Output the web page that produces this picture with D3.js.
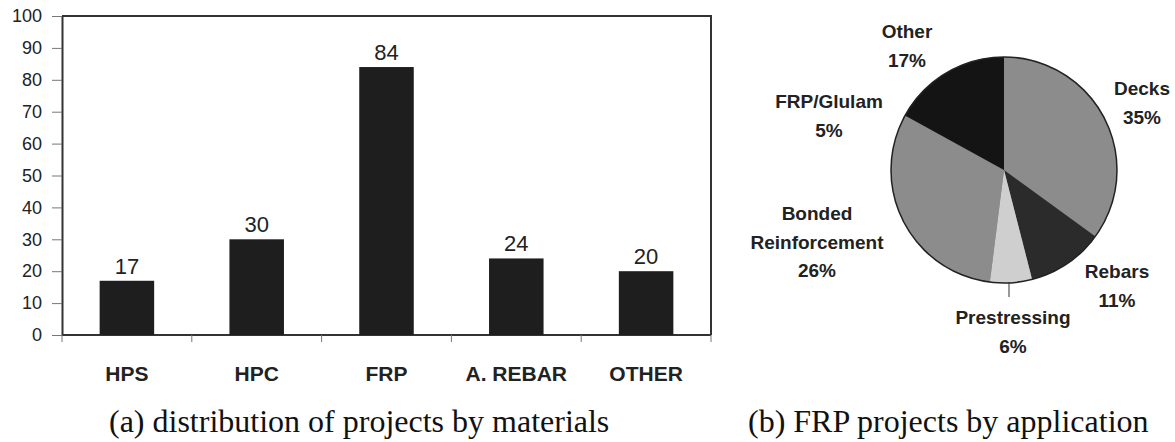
<!DOCTYPE html>
<html>
<head>
<meta charset="utf-8">
<script src="https://cdn.jsdelivr.net/npm/d3@7"></script>
<style>
  body { margin: 0; background: #fff; }
  svg { display: block; }
</style>
</head>
<body>
<svg id="chart" width="1175" height="442"></svg>
<script>
// bar chart data
const materials = ['HPS', 'HPC', 'FRP', 'A. REBAR', 'OTHER']
const projectCounts = [17, 30, 84, 24, 20]
const yTicks = [0, 10, 20, 30, 40, 50, 60, 70, 80, 90, 100]

// pie chart data
const applications = ['Decks', 'Rebars', 'Prestressing', 'Bonded Reinforcement', 'FRP/Glulam', 'Other']
const appShares = [35, 11, 6, 26, 5, 17]
const appColors = ['#8c8c8c', '#2b2b2b', '#cfcfcf', '#8c8c8c', '#8c8c8c', '#141414']

const sans = 'Liberation Sans, Arial, sans-serif'
const serif = 'Liberation Serif, Times New Roman, serif'

const svg = d3.select('#chart')

// ---- (a) bar chart ----
const plot = { left: 62, top: 16, right: 711, bottom: 335 }

const x = d3.scaleBand()
    .domain(materials)
    .range([plot.left, plot.right])
    .paddingInner(0.58)
    .paddingOuter(0.29)

const y = d3.scaleLinear().domain([0, 100]).range([plot.bottom, plot.top])

// frame (top + right)
svg.append('path')
    .attr('d', `M${plot.left},${plot.top}H${plot.right}V${plot.bottom}`)
    .attr('fill', 'none')
    .attr('stroke', '#333')
    .attr('stroke-width', 2)

const yAxis = svg.append('g')
    .attr('transform', `translate(${plot.left},0)`)
    .call(d3.axisLeft(y).tickValues(yTicks).tickSize(10).tickPadding(10).tickSizeOuter(0))
yAxis.select('.domain').attr('stroke', '#333').attr('stroke-width', 2)
yAxis.selectAll('.tick line').attr('stroke', '#777')
yAxis.selectAll('text')
    .style('font-family', sans)
    .style('font-size', '18px')
    .attr('fill', '#222')

// x axis: ticks between categories
const xEdges = d3.range(materials.length + 1).map(i => plot.left + i * (plot.right - plot.left) / materials.length)
svg.append('line')
    .attr('x1', plot.left).attr('x2', plot.right)
    .attr('y1', plot.bottom).attr('y2', plot.bottom)
    .attr('stroke', '#333').attr('stroke-width', 2)
svg.selectAll('.xtick')
    .data(xEdges)
    .enter()
    .append('line')
    .attr('class', 'xtick')
    .attr('x1', d => d).attr('x2', d => d)
    .attr('y1', plot.bottom).attr('y2', plot.bottom + 7)
    .attr('stroke', '#777')

svg.selectAll('.xlabel')
    .data(materials)
    .enter()
    .append('text')
    .attr('class', 'xlabel')
    .attr('x', d => x(d) + x.bandwidth() / 2)
    .attr('y', 381)
    .attr('text-anchor', 'middle')
    .style('font-family', sans)
    .style('font-size', '21px')
    .style('font-weight', 'bold')
    .attr('fill', '#222')
    .text(d => d)

const bars = materials.map((m, i) => ({ name: m, value: projectCounts[i] }))

svg.selectAll('.bar')
    .data(bars)
    .enter()
    .append('rect')
    .attr('class', 'bar')
    .attr('x', d => x(d.name))
    .attr('width', x.bandwidth())
    .attr('y', d => y(d.value))
    .attr('height', d => y(0) - y(d.value))
    .attr('fill', '#1e1e1e')

svg.selectAll('.barlabel')
    .data(bars)
    .enter()
    .append('text')
    .attr('class', 'barlabel')
    .attr('x', d => x(d.name) + x.bandwidth() / 2)
    .attr('y', d => y(d.value) - 7)
    .attr('text-anchor', 'middle')
    .style('font-family', sans)
    .style('font-size', '22px')
    .attr('fill', '#222')
    .text(d => d.value)

svg.append('text')
    .attr('x', 109).attr('y', 432)
    .style('font-family', serif)
    .style('font-size', '32px')
    .attr('fill', '#111')
    .text('(a) distribution of projects by materials')

// ---- (b) pie chart ----
const cx = 1004, cy = 170, radius = 113
const slices = applications.map((a, i) => ({ name: a, value: appShares[i], color: appColors[i] }))
const pie = d3.pie().value(d => d.value).sort(null)
const arc = d3.arc().innerRadius(0).outerRadius(radius)

const pieG = svg.append('g').attr('transform', `translate(${cx},${cy})`)
// base disc hides seams between same-coloured slices
pieG.append('circle').attr('r', radius).attr('fill', appColors[3])
pieG.selectAll('path')
    .data(pie(slices))
    .enter()
    .append('path')
    .attr('d', arc)
    .attr('fill', d => d.data.color)

pieG.append('circle')
    .attr('r', radius)
    .attr('fill', 'none')
    .attr('stroke', '#222')
    .attr('stroke-width', 1.5)

// leader line for Prestressing
pieG.append('line')
    .attr('x1', 5).attr('x2', 5)
    .attr('y1', radius - 1).attr('y2', radius + 14)
    .attr('stroke', '#333')

const pieLabels = [
    { lines: ['Decks', '35%'], x: 1142, y: 95 },
    { lines: ['Rebars', '11%'], x: 1117, y: 278 },
    { lines: ['Prestressing', '6%'], x: 1013, y: 324 },
    { lines: ['Bonded', 'Reinforcement', '26%'], x: 817, y: 220 },
    { lines: ['FRP/Glulam', '5%'], x: 829, y: 108 },
    { lines: ['Other', '17%'], x: 907, y: 38 }
]

const labelG = svg.selectAll('.pielabel')
    .data(pieLabels)
    .enter()
    .append('text')
    .attr('class', 'pielabel')
    .attr('text-anchor', 'middle')
    .style('font-family', sans)
    .style('font-size', '19px')
    .style('font-weight', 'bold')
    .attr('fill', '#222')

labelG.each(function (d) {
    d3.select(this).selectAll('tspan')
        .data(d.lines)
        .enter()
        .append('tspan')
        .attr('x', d.x)
        .attr('y', (t, i) => d.y + i * 28.7)
        .text(t => t)
})

svg.append('text')
    .attr('x', 748).attr('y', 432)
    .style('font-family', serif)
    .style('font-size', '32px')
    .attr('fill', '#111')
    .text('(b) FRP projects by application')
</script>
</body>
</html>
